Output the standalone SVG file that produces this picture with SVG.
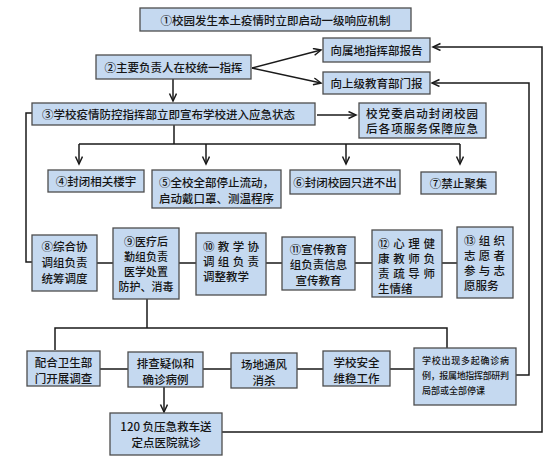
<svg xmlns="http://www.w3.org/2000/svg" width="553" height="466" viewBox="0 0 553 466">
<defs>
<marker id="arr" markerWidth="10" markerHeight="10" refX="8" refY="4" orient="auto" markerUnits="userSpaceOnUse">
<path d="M0.5,0.5 L8,4 L0.5,7.5" fill="none" stroke="#1a1a1a" stroke-width="1.5"/>
</marker>
<style>
.b{fill:#c5d9f0;stroke:#4d4d4d;stroke-width:1.3}
.t{font-family:"Noto Sans CJK SC","Noto Sans CJK TC",sans-serif;font-size:11.5px;fill:#151515;font-weight:500;dominant-baseline:central}
.c{text-anchor:middle}
.s{font-size:9px}
.m{font-size:11px}
.l{fill:none;stroke:#1a1a1a;stroke-width:1.5}
.a{marker-end:url(#arr)}
</style>
</defs>
<rect width="553" height="466" fill="#ffffff"/>
<g id="connectors">
<path class="l a" d="M252,68 L321,50"/>
<path class="l a" d="M252,68 L321,83"/>
<path class="l a" d="M173,79 L173,101"/>
<path class="l a" d="M317,115 L356,115"/>
<path class="l" d="M174,125 L174,144 M79,144 L460,144"/>
<path class="l a" d="M79,144 L79,164"/>
<path class="l a" d="M206,144 L206,164"/>
<path class="l a" d="M346,144 L346,164"/>
<path class="l a" d="M460,144 L460,164"/>
<path class="l" d="M32,113 L26,113 L26,262 L32,262"/>
<path class="l" d="M97,263 L113,263 M179,263 L196,263 M266,263 L282,263 M355,263 L372,263"/>
<path class="l" d="M442,263 L457,263" stroke-width="2.5"/>
<path class="l" d="M147,299 L147,328 M55,350 L55,328 L447,328 L447,348"/>
<path class="l" d="M100,369 L128,369 M203,369 L231,369 M297,369 L323,369 M390,369 L414,369"/>
<path class="l a" d="M164,387 L164,412"/>
<path class="l a" d="M222,432 L542,432 L542,47 L433,47"/>
<path class="l a" d="M516,375 L529,375 L529,83 L432,83"/>
</g>
<g id="n1"><rect class="b" x="140" y="8" width="271" height="23"/><text class="t c" x="275.5" y="20">①校园发生本土疫情时立即启动一级响应机制</text></g>
<g id="n_report1"><rect class="b" x="323" y="38" width="107" height="24"/><text class="t c" x="376.5" y="50">向属地指挥部报告</text></g>
<g id="n_report2"><rect class="b" x="323" y="72" width="107" height="22"/><text class="t c" x="376.5" y="83">向上级教育部门报</text></g>
<g id="n2"><rect class="b" x="96" y="55" width="155" height="24"/><text class="t c" x="173.5" y="67">②主要负责人在校统一指挥</text></g>
<g id="n3"><rect class="b" x="32" y="103" width="283" height="22"/><text class="t" x="42" y="114">③学校疫情防控指挥部立即宣布学校进入应急状态</text></g>
<g id="n_party"><rect class="b" x="359" y="103" width="127" height="35"/><text class="t" x="366" y="113" textLength="112" lengthAdjust="spacing">校党委启动封闭校园</text><text class="t" x="366" y="128" textLength="112" lengthAdjust="spacing">后各项服务保障应急</text></g>
<g id="n4"><rect class="b" x="48" y="170" width="96" height="22"/><text class="t c" x="96" y="181">④封闭相关楼宇</text></g>
<g id="n5"><rect class="b" x="152" y="170" width="129" height="38"/><text class="t" x="159" y="182">⑤全校全部停止流动，</text><text class="t" x="159" y="198">启动戴口罩、测温程序</text></g>
<g id="n6"><rect class="b" x="290" y="170" width="110" height="24"/><text class="t c" x="345" y="182">⑥封闭校园只进不出</text></g>
<g id="n7"><rect class="b" x="421" y="172" width="75" height="22"/><text class="t c" x="458.5" y="183">⑦禁止聚集</text></g>
<g id="n8"><rect class="b" x="32" y="235" width="65" height="56"/><text class="t c" x="64.5" y="246">⑧综合协</text><text class="t c" x="64.5" y="262">调组负责</text><text class="t c" x="64.5" y="278">统筹调度</text></g>
<g id="n9"><rect class="b" x="113" y="228" width="66" height="71"/><text class="t c m" x="146" y="241">⑨医疗后</text><text class="t c m" x="146" y="256">勤组负责</text><text class="t c m" x="146" y="271">医学处置</text><text class="t c m" x="146" y="286">防护、消毒</text></g>
<g id="n10"><rect class="b" x="196" y="233" width="70" height="62"/><text class="t" x="203" y="246" textLength="56" lengthAdjust="spacing">⑩教学协</text><text class="t" x="203" y="261" textLength="56" lengthAdjust="spacing">调组负责</text><text class="t" x="203" y="276">调整教学</text></g>
<g id="n11"><rect class="b" x="282" y="237" width="73" height="53"/><text class="t c" x="318.5" y="249">⑪宣传教育</text><text class="t c" x="318.5" y="264">组负责信息</text><text class="t c" x="318.5" y="280">宣传教育</text></g>
<g id="n12"><rect class="b" x="372" y="230" width="70" height="67"/><text class="t" x="378" y="243" textLength="57" lengthAdjust="spacing">⑫心理健</text><text class="t" x="378" y="258" textLength="57" lengthAdjust="spacing">康教师负</text><text class="t" x="378" y="273" textLength="57" lengthAdjust="spacing">责疏导师</text><text class="t" x="378" y="288">生情绪</text></g>
<g id="n13"><rect class="b" x="457" y="227" width="56" height="71"/><text class="t" x="464" y="240" textLength="41" lengthAdjust="spacing">⑬组织</text><text class="t" x="464" y="255" textLength="41" lengthAdjust="spacing">志愿者</text><text class="t" x="464" y="270" textLength="41" lengthAdjust="spacing">参与志</text><text class="t" x="464" y="285">愿服务</text></g>
<g id="n_health"><rect class="b" x="27" y="351" width="73" height="35"/><text class="t c" x="63.5" y="362">配合卫生部</text><text class="t c" x="63.5" y="378">门开展调查</text></g>
<g id="n_check"><rect class="b" x="128" y="352" width="75" height="35"/><text class="t c" x="165.5" y="363">排查疑似和</text><text class="t c" x="165.5" y="379">确诊病例</text></g>
<g id="n_vent"><rect class="b" x="231" y="353" width="66" height="35"/><text class="t c" x="264" y="364">场地通风</text><text class="t c" x="264" y="380">消杀</text></g>
<g id="n_safe"><rect class="b" x="323" y="351" width="67" height="35"/><text class="t c" x="356.5" y="362">学校安全</text><text class="t c" x="356.5" y="378">维稳工作</text></g>
<g id="n_multi"><rect class="b" x="414" y="348" width="102" height="57"/><text class="t s" x="422" y="360" textLength="87" lengthAdjust="spacing">学校出现多起确诊病</text><text class="t s" x="422" y="375" textLength="87" lengthAdjust="spacing">例，报属地指挥部研判</text><text class="t s" x="422" y="390">局部或全部停课</text></g>
<g id="n120"><rect class="b" x="110" y="413" width="112" height="42"/><text class="t c" x="166" y="426">120 负压急救车送</text><text class="t c" x="166" y="442">定点医院就诊</text></g>
</svg>
